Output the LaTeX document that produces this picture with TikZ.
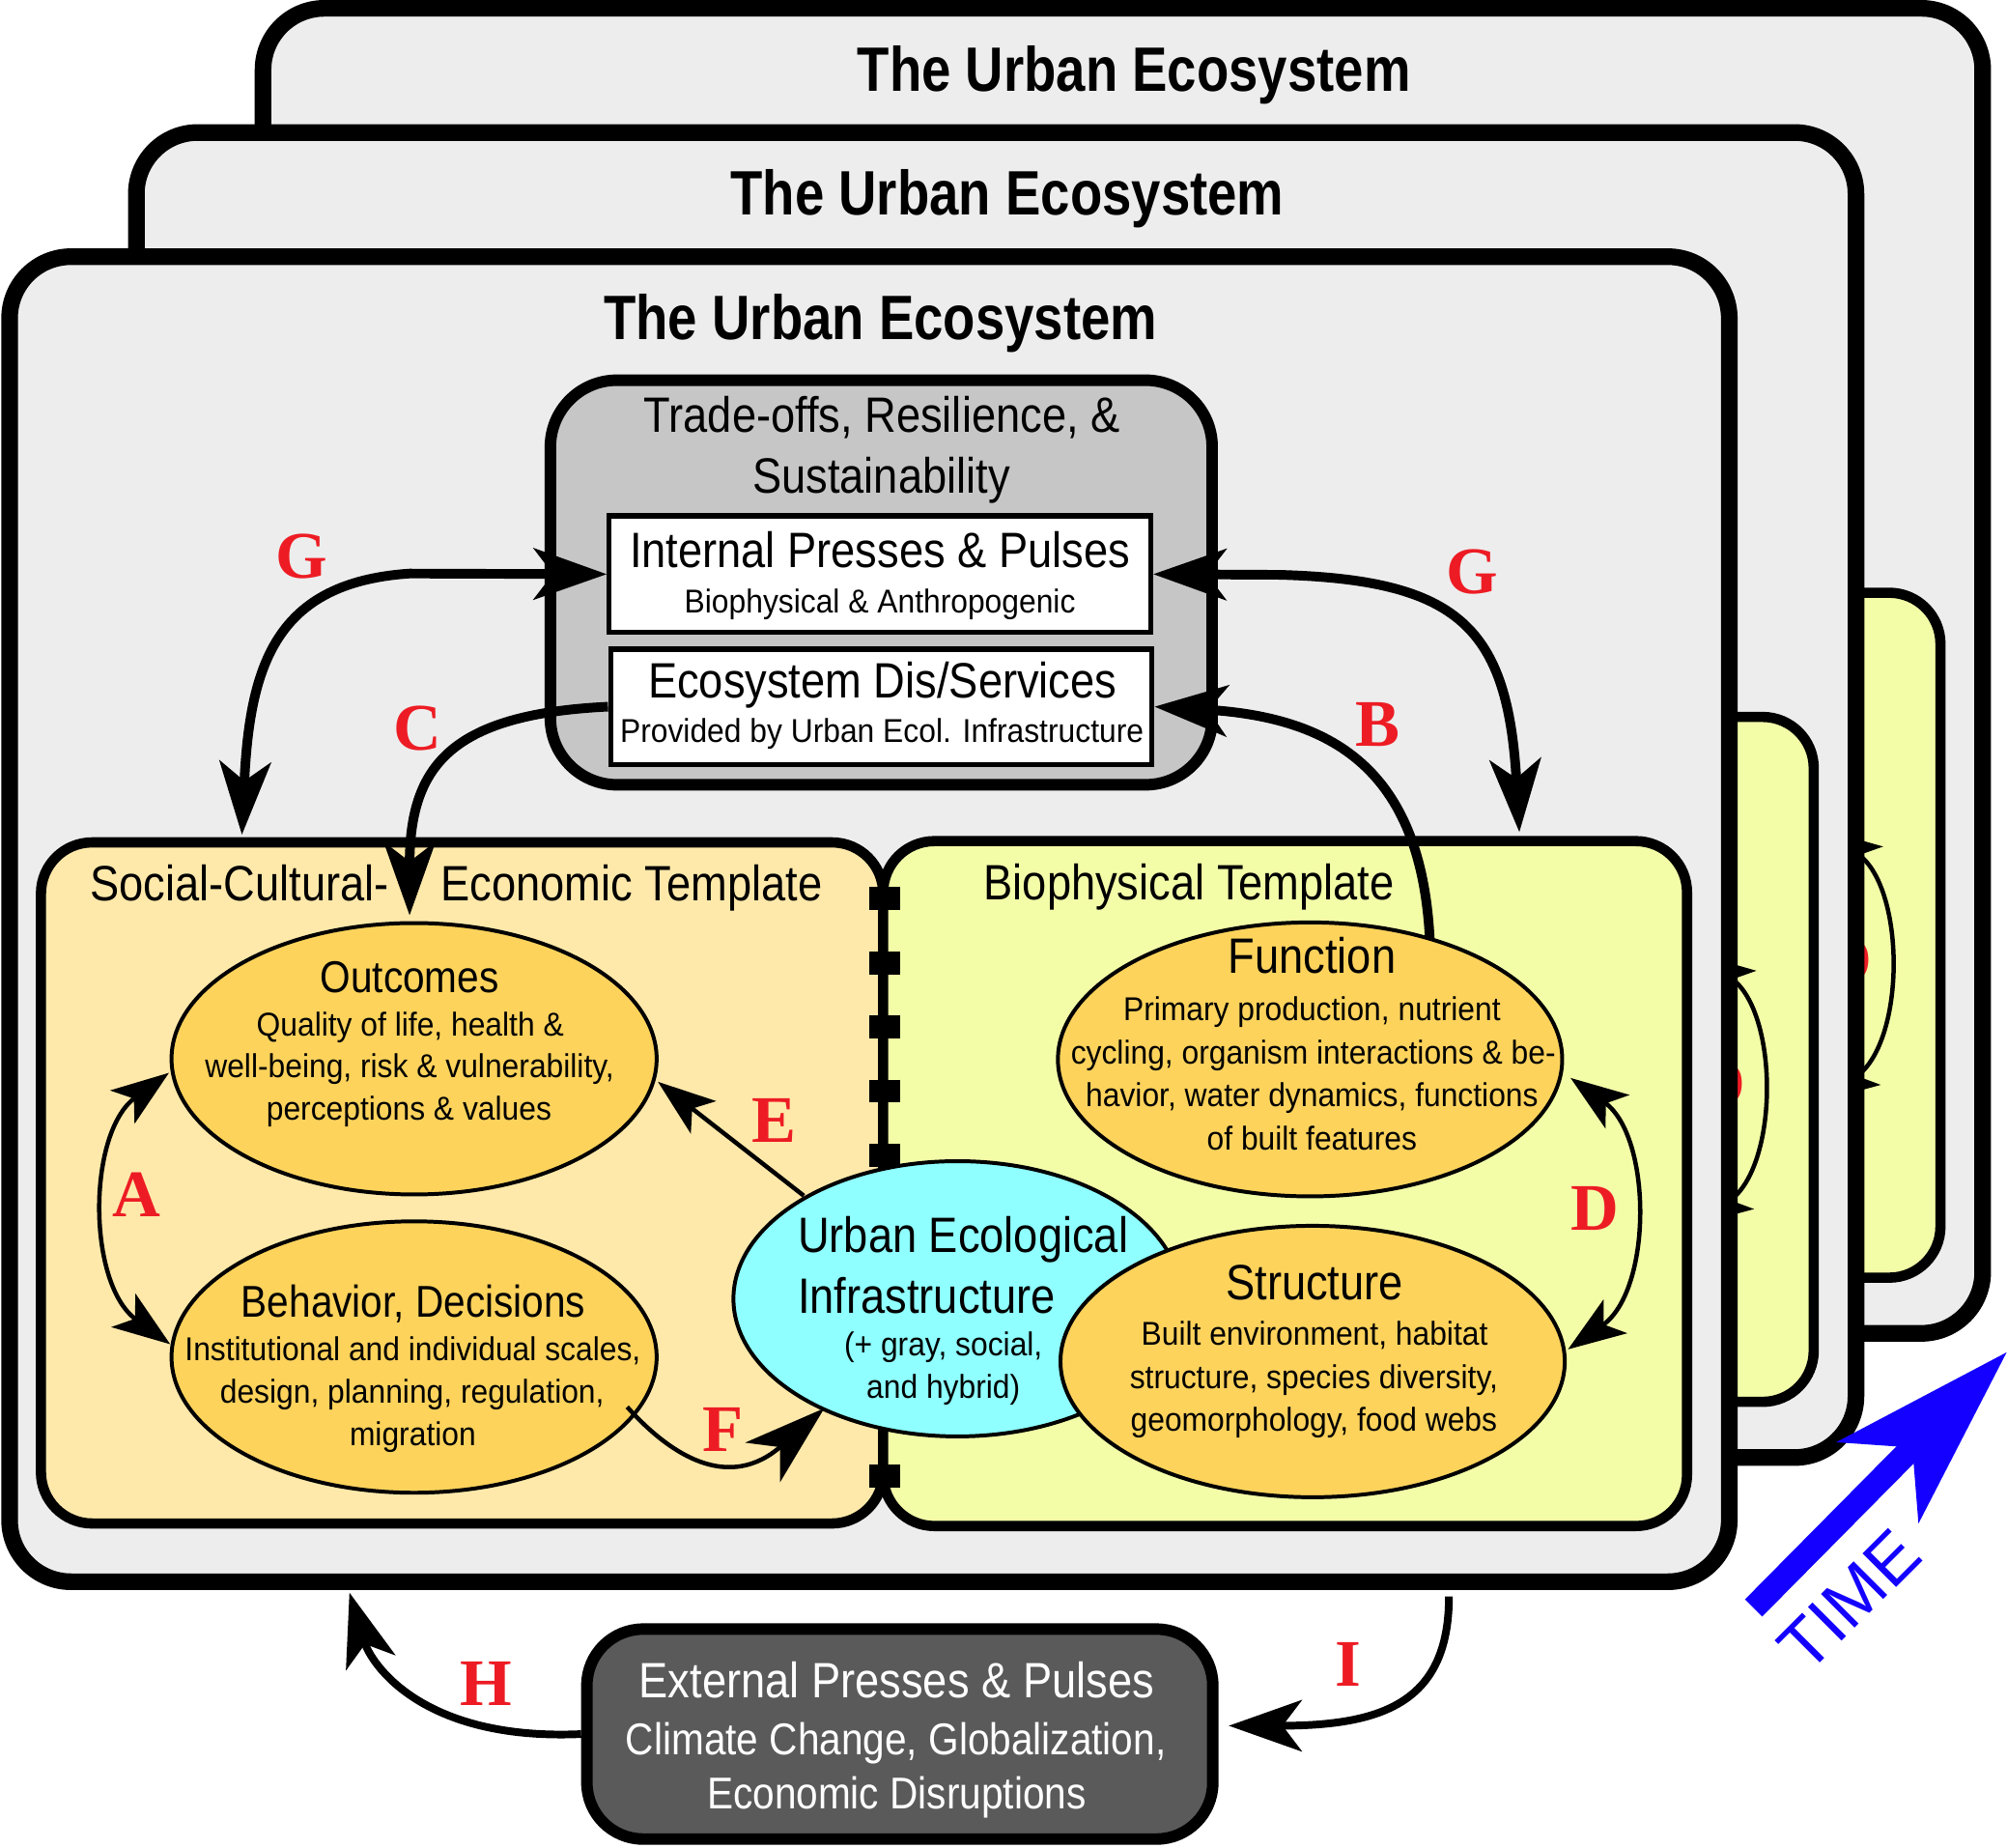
\documentclass[tikz,border=0pt]{standalone}
\usepackage{fontspec}
\setmainfont{Liberation Sans}
\newfontfamily\narf[FakeStretch=0.88]{Liberation Sans}
\newfontfamily\bodyf[FakeStretch=0.93]{Liberation Sans}
\newfontfamily\ttlf[FakeStretch=0.84]{Liberation Sans}
\newfontfamily\labf{Liberation Serif}
\usetikzlibrary{arrows.meta,shapes.geometric}
\definecolor{framegray}{HTML}{EDEDED}
\definecolor{tradegray}{HTML}{C6C6C6}
\definecolor{socfill}{HTML}{FFE9AA}
\definecolor{biofill}{HTML}{F3FDA8}
\definecolor{ellfill}{HTML}{FDD35C}
\definecolor{ueifill}{HTML}{8FFFFF}
\definecolor{extfill}{HTML}{5A5A5A}
\definecolor{labred}{HTML}{ED1C24}
\definecolor{timeblue}{HTML}{1400FF}
\tikzset{
  bigtip/.tip={Stealth[length=28.5pt,width=20pt,inset=7.5pt]},
  smalltip/.tip={Stealth[length=22.5pt,width=16pt,inset=5.5pt]},
  ftip/.tip={Stealth[length=32pt,width=20.5pt,inset=9pt]},
  timetip/.tip={Stealth[length=71pt,width=44pt,inset=18.5pt]},
  framebox/.style={draw, line width=6.5pt, fill=framegray, rounded corners=24pt, inner sep=0pt},
  tradebox/.style={draw, line width=4.5pt, fill=tradegray, rounded corners=26pt, inner sep=0pt},
  whitebox/.style={draw, line width=2pt, fill=white, inner sep=0pt},
  socbox/.style={draw, line width=4pt, fill=socfill, rounded corners=20pt, inner sep=0pt},
  biobox/.style={draw, line width=4pt, fill=biofill, rounded corners=20pt, inner sep=0pt},
  extbox/.style={draw, line width=4.5pt, fill=extfill, rounded corners=22pt, inner sep=0pt},
  ell/.style={ellipse, draw, line width=1.5pt, fill=ellfill, inner sep=0pt},
  ueiell/.style={ellipse, draw, line width=1.5pt, fill=ueifill, inner sep=0pt},
  divider/.style={line width=12pt, dash pattern=on 9pt off 16.05pt},
  ttl/.style={font=\ttlf\bfseries\fontsize{24.5pt}{29pt}\selectfont, inner sep=0pt, anchor=base},
  head/.style={font=\narf\fontsize{19.4pt}{23pt}\selectfont, inner sep=0pt, anchor=base},
  subhead/.style={font=\narf\fontsize{17.4pt}{21pt}\selectfont, inner sep=0pt, anchor=base},
  body/.style={font=\bodyf\fontsize{12.9pt}{15pt}\selectfont, inner sep=0pt, anchor=base},
  lab/.style={font=\labf\bfseries\fontsize{26pt}{30pt}\selectfont, text=labred, inner sep=0pt},
  conn/.style={line width=3.75pt},
  mconn/.style={line width=3pt},
  thinconn/.style={line width=1.7pt},
  timearrow/.style={line width=9.5pt, draw=timeblue, -timetip},
  timetext/.style={font=\fontsize{27pt}{32pt}\selectfont, text=timeblue, inner sep=0pt}
}
% parts of an ecosystem layer that stay visible behind the front one
\newcommand\ueBack[1]{%
  \node[framebox, minimum width=671.75pt, minimum height=517.5pt] (#1frame) at (679.25,718) {};
  \node[ttl] (#1title) at (688,265) {The Urban Ecosystem};
  \node[tradebox, minimum width=258.5pt, minimum height=158pt] (#1trade) at (688.5,455) {};
  \node[biobox, minimum width=314pt, minimum height=267.5pt] (#1bio) at (1004,924.5) {};
  \coordinate (#1dT) at (1227,842);
  \coordinate (#1dB) at (1225,1054);
  \draw[thinconn, smalltip-smalltip] (#1dT) .. controls (1291,888) and (1291,1008) .. (#1dB);
  \node[lab] (#1labD) at (1246,944) {D};
}
\newcommand\ueLayer[1]{%
  \node[framebox, minimum width=671.75pt, minimum height=517.5pt] (#1frame) at (679.25,718) {};
  \node[ttl] (#1title) at (688,265) {The Urban Ecosystem};
  % trade-offs box
  \node[tradebox, minimum width=258.5pt, minimum height=158pt] (#1trade) at (688.5,455) {};
  \node[head] (#1tradeA) at (689,337.5) {Trade-offs, Resilience, \&};
  \node[head] (#1tradeB) at (688.5,385) {Sustainability};
  \node[whitebox, minimum width=211.5pt, minimum height=45.5pt] (#1int) at (687.5,448.5) {};
  \node[head] (#1intA) at (687.5,443) {Internal Presses \& Pulses};
  \node[body] (#1intB) at (687.5,479) {Biophysical \& Anthropogenic};
  \node[whitebox, minimum width=211.5pt, minimum height=45pt] (#1eco) at (688.5,552) {};
  \node[head] (#1ecoA) at (689.5,545) {Ecosystem Dis/Services};
  \node[body] (#1ecoB) at (689,580) {Provided by Urban Ecol. Infrastructure};
  % templates
  \node[socbox, minimum width=329pt, minimum height=266pt] (#1soc) at (361,924) {};
  \node[biobox, minimum width=314pt, minimum height=267.5pt] (#1bio) at (1004,924.5) {};
  \coordinate (#1divA) at (691,693);
  \coordinate (#1divB) at (691,1185);
  \draw[divider] (#1divA) -- (#1divB);
  \node[head, anchor=base west] (#1socA) at (70,704) {Social-Cultural-};
  \node[head, anchor=base west] (#1socB) at (344,704) {Economic Template};
  \node[head] (#1bioA) at (929,703) {Biophysical Template};
  % ellipses
  \node[ell, minimum width=189.5pt, minimum height=106pt] (#1out) at (323.5,827) {};
  \node[subhead] (#1outA) at (320,775) {Outcomes};
  \node[body] (#1outB) at (320.5,809) {Quality of life, health \&};
  \node[body] (#1outC) at (320,842) {well-being, risk \& vulnerability,};
  \node[body] (#1outD) at (319.5,875) {perceptions \& values};
  \node[ell, minimum width=189.5pt, minimum height=106pt] (#1beh) at (323.5,1060) {};
  \node[subhead] (#1behA) at (323,1029) {Behavior, Decisions};
  \node[body] (#1behB) at (322.5,1063) {Institutional and individual scales,};
  \node[body] (#1behC) at (322,1096) {design, planning, regulation,};
  \node[body] (#1behD) at (322.5,1129) {migration};
  \node[ell, minimum width=197pt, minimum height=107pt] (#1fun) at (1023.5,827.5) {};
  \node[head] (#1funA) at (1025,760) {Function};
  \node[body] (#1funB) at (1025,797) {Primary production, nutrient};
  \node[body] (#1funC) at (1026,831) {cycling, organism interactions \& be-};
  \node[body] (#1funD) at (1025,864) {havior, water dynamics, functions};
  \node[body] (#1funE) at (1025,898) {of built features};
  \node[ueiell, minimum width=175pt, minimum height=107.5pt] (#1uei) at (748,1014.5) {};
  \node[head, anchor=base west] (#1ueiA) at (623,978) {Urban Ecological};
  \node[head, anchor=base west] (#1ueiB) at (623,1026) {Infrastructure};
  \node[body] (#1ueiC) at (737,1059) {(+ gray, social,};
  \node[body] (#1ueiD) at (737,1092) {and hybrid)};
  \node[ell, minimum width=197pt, minimum height=106pt] (#1str) at (1025.5,1063.5) {};
  \node[head] (#1strA) at (1027,1015) {Structure};
  \node[body] (#1strB) at (1027,1051) {Built environment, habitat};
  \node[body] (#1strC) at (1026.5,1085) {structure, species diversity,};
  \node[body] (#1strD) at (1026.5,1118) {geomorphology, food webs};
  % connectors
  \coordinate (#1gL) at (189,652);
  \coordinate (#1gR) at (1187,650);
  \coordinate (#1bS) at (1117,733);
  \coordinate (#1cE) at (320,715);
  \coordinate (#1aT) at (132,838);
  \coordinate (#1aB) at (133,1050);
  \coordinate (#1dT) at (1227,842);
  \coordinate (#1dB) at (1225,1054);
  \coordinate (#1eS) at (628,934);
  \coordinate (#1eE) at (514,845);
  \coordinate (#1fS) at (490,1099);
  \coordinate (#1fE) at (644,1100);
  \draw[conn, bigtip-bigtip] (#1gL) .. controls (195,520) and (215,455) .. (320,448) -- (#1int.west);
  \draw[conn, bigtip-bigtip] (#1int.east) -- (1000,449) .. controls (1140,453) and (1178,490) .. (#1gR);
  \draw[conn, -bigtip] (#1bS) .. controls (1110,600) and (1040,560) .. (#1eco.east);
  \draw[conn, -bigtip] (#1eco.west) .. controls (350,558) and (320,600) .. (#1cE);
  \draw[thinconn, smalltip-smalltip] (#1aT) .. controls (68,885) and (68,1003) .. (#1aB);
  \draw[thinconn, smalltip-smalltip] (#1dT) .. controls (1291,888) and (1291,1008) .. (#1dB);
  \draw[thinconn, -smalltip] (#1eS) -- (#1eE);
  \draw[thinconn, -ftip] (#1fS) .. controls (525,1138) and (570,1165) .. (#1fE);
  \node[lab] (#1labG1) at (235.5,435) {G};
  \node[lab] (#1labG2) at (1150,446.5) {G};
  \node[lab] (#1labB) at (1076.5,566) {B};
  \node[lab] (#1labC) at (326.5,569) {C};
  \node[lab] (#1labA) at (107,933) {A};
  \node[lab] (#1labD) at (1246,944) {D};
  \node[lab] (#1labE) at (605,875) {E};
  \node[lab] (#1labF) at (565,1117) {F};
}
\begin{document}
\begin{tikzpicture}[x=0.5pt,y=-0.5pt]
\useasboundingbox (0,0) rectangle (1568,1443);
\fill[white] (0,0) rectangle (1568,1443);
\begin{scope}[shift={(198,-194)}]
  \ueBack{c}
\end{scope}
\begin{scope}[shift={(99,-97)}]
  \ueBack{b}
\end{scope}
\ueLayer{a}
% external box
\node[extbox, minimum width=244.5pt, minimum height=82pt] (ext) at (703,1354.5) {};
\node[head, text=white] (extA) at (700.5,1326) {External Presses \& Pulses};
\node[subhead, text=white] (extB) at (700,1371) {Climate Change, Globalization,};
\node[subhead, text=white] (extC) at (700.5,1413) {Economic Disruptions};
\coordinate (hE) at (273,1244);
\coordinate (iS) at (1132,1247);
\draw[mconn, -bigtip] (ext.west) .. controls (330,1360) and (290,1300) .. (hE);
\draw[mconn, -bigtip] (iS) .. controls (1132,1330) and (1080,1348) .. ([xshift=4pt,yshift=3.25pt]ext.east);
\node[lab] (labH) at (379.5,1315) {H};
\node[lab] (labI) at (1053,1300) {I};
% time
\coordinate (tS) at (1370,1256);
\coordinate (tE) at (1568,1056);
\draw[timearrow] (tS) -- (tE);
\node[timetext, rotate=45] (time) at (1445,1250) {TIME};
\end{tikzpicture}
\end{document}
